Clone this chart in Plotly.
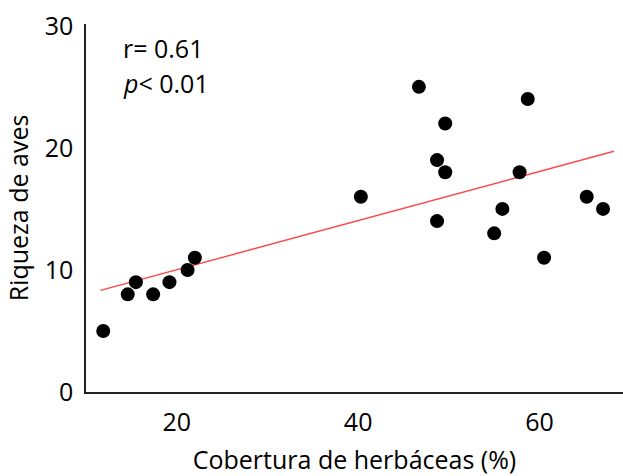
import numpy as np
import plotly.graph_objects as go

# Herbaceous cover (%) and bird richness per site
cobertura = [11.9, 14.6, 15.5, 17.4, 19.2, 21.2, 22.0, 40.3, 46.7, 58.7,
             49.6, 48.7, 49.6, 57.8, 65.2, 55.9, 67.0, 48.7, 55.0, 60.5]
riqueza = [5, 8, 9, 8, 9, 10, 11, 16, 25, 24,
           22, 19, 18, 18, 16, 15, 15, 14, 13, 11]

x_ticks = [20, 40, 60]
y_ticks = [0, 10, 20, 30]
fit_span = [11.6, 68.2]

# Least-squares trend line
slope, intercept = np.polyfit(cobertura, riqueza, 1)
fit_x = np.array(fit_span)
fit_y = slope * fit_x + intercept

FONT = "Open Sans"
FS = 25

fig = go.Figure()
fig.add_trace(go.Scatter(
    x=fit_x, y=fit_y, mode="lines",
    line=dict(color="rgb(255,70,70)", width=1.4),
    hoverinfo="skip", showlegend=False,
))
fig.add_trace(go.Scatter(
    x=cobertura, y=riqueza, mode="markers",
    marker=dict(color="black", size=14, line=dict(width=0)),
    showlegend=False,
))

fig.add_annotation(x=0, y=1, xref="paper", yref="paper", xanchor="left", yanchor="middle",
                   xshift=35, yshift=-24, showarrow=False,
                   text="r= 0.61", font=dict(family=FONT, size=FS, color="black"))
fig.add_annotation(x=0, y=1, xref="paper", yref="paper", xanchor="left", yanchor="middle",
                   xshift=35, yshift=-59, showarrow=False,
                   text="<i>p</i>< 0.01", font=dict(family=FONT, size=FS, color="black"))

fig.update_layout(
    width=623, height=476,
    margin=dict(l=86, r=0, t=24, b=84),
    plot_bgcolor="white", paper_bgcolor="white",
    font=dict(family=FONT, size=FS, color="black"),
    xaxis=dict(
        range=[10, 69.2], tickvals=x_ticks, showgrid=False, zeroline=False,
        showline=True, linecolor="#222", linewidth=1.5,
        ticks="outside", ticklen=7, tickcolor="rgba(0,0,0,0)",
        title=dict(text="Cobertura de herbáceas (%)", standoff=15,
                   font=dict(family=FONT, size=FS)),
        tickfont=dict(family=FONT, size=FS),
    ),
    yaxis=dict(
        range=[0, 30.15], tickvals=y_ticks, showgrid=False, zeroline=False,
        showline=True, linecolor="#222", linewidth=1.5,
        ticks="outside", ticklen=6, tickcolor="rgba(0,0,0,0)",
        title=dict(text="Riqueza de aves", standoff=9,
                   font=dict(family=FONT, size=FS)),
        tickfont=dict(family=FONT, size=FS),
    ),
)

fig.write_html("out.html")
